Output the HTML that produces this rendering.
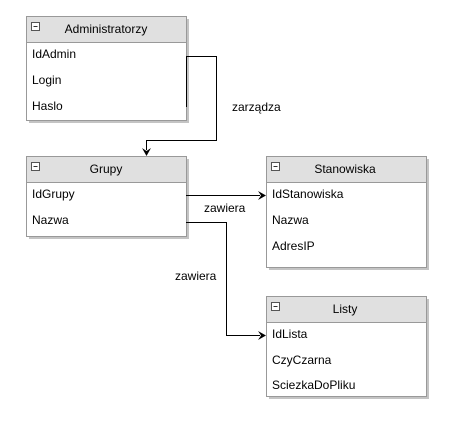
<!DOCTYPE html>
<html><head><meta charset="utf-8"><style>
html,body{margin:0;padding:0;background:#fff;}
svg text{font-family:"Liberation Sans",Arial,sans-serif;font-size:12px;fill:#000;}
</style></head><body>
<svg width="456" height="416" xmlns="http://www.w3.org/2000/svg">
<defs>
<g id="minus"><rect x="0" y="0" width="8" height="8" fill="#fff" stroke="#555" stroke-width="1"/><line x1="2" y1="4" x2="6" y2="4" stroke="#333"/></g>
</defs>
<!-- shadows -->
<rect x="29" y="19" width="160" height="104" fill="#c4c4c4"/>
<rect x="29" y="159" width="160" height="80" fill="#c4c4c4"/>
<rect x="269" y="159" width="160" height="111" fill="#c4c4c4"/>
<rect x="269" y="299" width="160" height="100" fill="#c4c4c4"/>
<!-- Administratorzy -->
<rect x="26.5" y="16.5" width="160" height="104" fill="#fff" stroke="#999"/>
<rect x="26.5" y="16.5" width="160" height="26" fill="#e0e0e0" stroke="#999"/>
<use href="#minus" x="31.5" y="22.5"/>
<text x="106" y="33" text-anchor="middle">Administratorzy</text>
<text x="32" y="58">IdAdmin</text>
<text x="32" y="84">Login</text>
<text x="32" y="110">Haslo</text>
<!-- Grupy -->
<rect x="26.5" y="156.5" width="160" height="80" fill="#fff" stroke="#999"/>
<rect x="26.5" y="156.5" width="160" height="26" fill="#e0e0e0" stroke="#999"/>
<use href="#minus" x="31.5" y="162.5"/>
<text x="106" y="173" text-anchor="middle">Grupy</text>
<text x="32" y="198">IdGrupy</text>
<text x="32" y="224">Nazwa</text>
<!-- Stanowiska -->
<rect x="266.5" y="156.5" width="160" height="111" fill="#fff" stroke="#999"/>
<rect x="266.5" y="156.5" width="160" height="26" fill="#e0e0e0" stroke="#999"/>
<use href="#minus" x="271.5" y="162.5"/>
<text x="345" y="173" text-anchor="middle">Stanowiska</text>
<text x="272" y="198">IdStanowiska</text>
<text x="272" y="224">Nazwa</text>
<text x="272" y="250">AdresIP</text>
<!-- Listy -->
<rect x="266.5" y="296.5" width="160" height="100" fill="#fff" stroke="#999"/>
<rect x="266.5" y="296.5" width="160" height="26" fill="#e0e0e0" stroke="#999"/>
<use href="#minus" x="271.5" y="302.5"/>
<text x="345" y="313" text-anchor="middle">Listy</text>
<text x="272" y="338">IdLista</text>
<text x="272" y="364">CzyCzarna</text>
<text x="272" y="389">SciezkaDoPliku</text>
<!-- connectors -->
<g fill="none" stroke="#000" stroke-width="1">
<polyline points="186.5,107 186.5,56.5 216.5,56.5 216.5,140.5 146.5,140.5 146.5,150"/>
<polyline points="186,195.5 260,195.5"/>
<polyline points="186,222.5 226.5,222.5 226.5,335.5 260,335.5"/>
</g>
<polygon points="142,148 146.5,156 151,148 146.5,151" fill="#000"/>
<polygon points="258,191 266,195.5 258,200 261,195.5" fill="#000"/>
<polygon points="258,331 266,335.5 258,340 261,335.5" fill="#000"/>
<text x="232" y="111">zarządza</text>
<text x="204" y="212">zawiera</text>
<text x="175" y="280">zawiera</text>
</svg>
</body></html>
